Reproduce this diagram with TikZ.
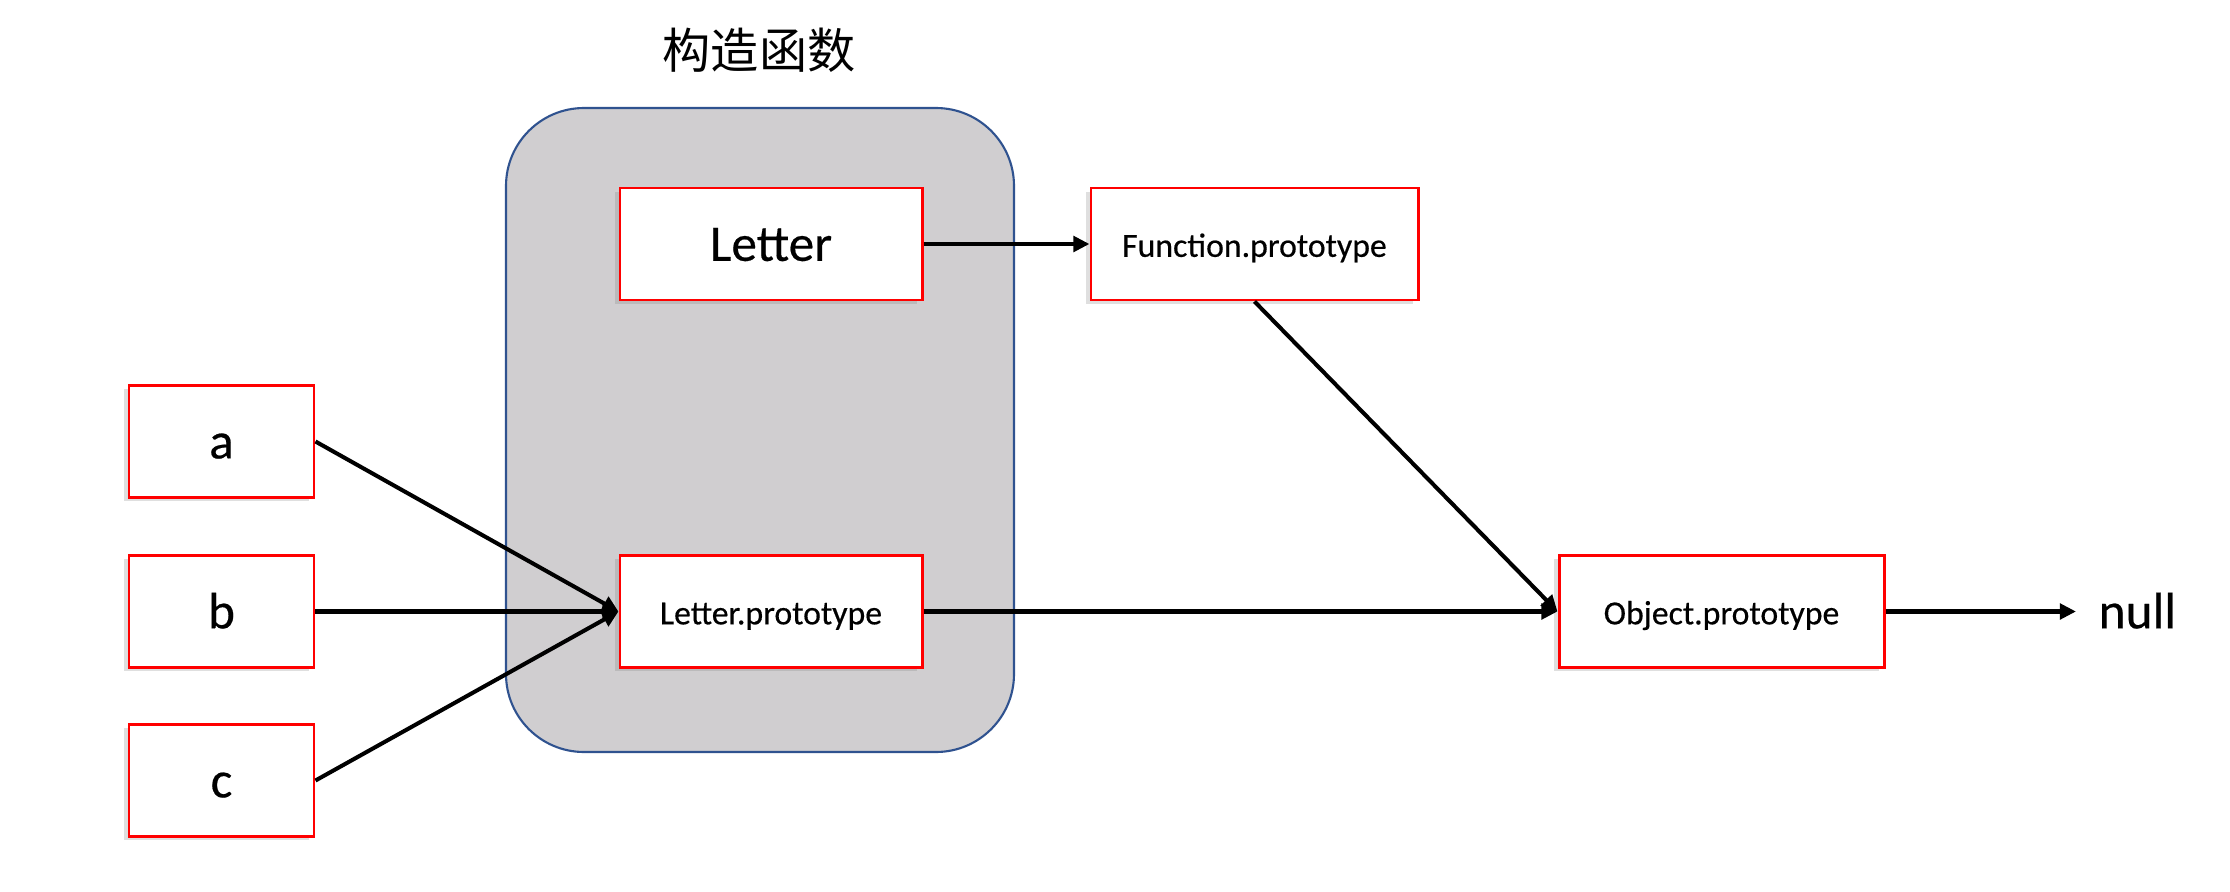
\documentclass[tikz,border=0pt]{standalone}
\usepackage{fontspec}
\setmainfont{Carlito}[FakeBold=0.4]
\newfontfamily\cjkfont{Noto Sans CJK SC}
\usetikzlibrary{arrows.meta,shadows}
\definecolor{boxred}{RGB}{255,0,0}
\definecolor{ctorgray}{RGB}{208,206,208}
\definecolor{ctorblue}{RGB}{47,82,143}
\begin{document}
\begin{tikzpicture}[x=1cm, y=1cm,
    objbox/.style={draw=boxred, line width=0.85pt, fill=white, inner sep=0pt,
      minimum height=1.12cm,
      drop shadow={shadow xshift=-1.3pt, shadow yshift=-1.1pt, opacity=0.25}},
    bigtext/.style={font=\fontsize{14.6}{16}\selectfont, text height=9.6pt, text depth=0pt},
    smalltext/.style={font=\fontsize{9.6}{11}\selectfont, text height=7.3pt, text depth=0pt},
    link/.style={line width=1.15pt, -{Triangle[length=4.6pt, width=4.4pt]}}]
      \useasboundingbox (0,0) rectangle (22.30,8.91);
      %
      \node[draw=ctorblue, fill=ctorgray, line width=0.6pt, rounded corners=0.78cm,
        minimum width=5.08cm, minimum height=6.44cm] (ctor) at (7.60,4.61) {};
      \node[font=\cjkfont\fontsize{13.7}{15}\selectfont] (title) at (7.59,8.41) {构造函数};
      %
      \node[objbox, bigtext, minimum width=3.02cm] (letter) at (7.71,6.47) {Letter};
      \node[objbox, smalltext, minimum width=3.27cm] (fproto) at (12.545,6.47) {Function.prototype};
      \node[objbox, smalltext, minimum width=3.02cm] (lproto) at (7.71,2.795) {Letter.prototype};
      \node[objbox, smalltext, minimum width=3.25cm] (oproto) at (17.215,2.795) {Object.prototype};
      %
      \node[objbox, bigtext, minimum width=1.85cm] (a) at (2.215,4.495) {a};
      \node[objbox, bigtext, minimum width=1.85cm] (b) at (2.215,2.795) {b};
      \node[objbox, bigtext, minimum width=1.85cm] (c) at (2.215,1.105) {c};
      \node[bigtext, anchor=west, inner sep=0pt] (null) at (20.98,2.795) {null};
      %
      \draw[link] (a.east) -- (lproto.west);
      \draw[link] (b.east) -- (lproto.west);
      \draw[link] (c.east) -- (lproto.west);
      \draw[link] (letter.east) -- (fproto.west);
      \draw[link] (fproto.south) -- (oproto.west);
      \draw[link] (lproto.east) -- (oproto.west);
      \draw[link, shorten >=0.22cm] (oproto.east) -- (null.west);
      %
    \end{tikzpicture}
\end{document}
